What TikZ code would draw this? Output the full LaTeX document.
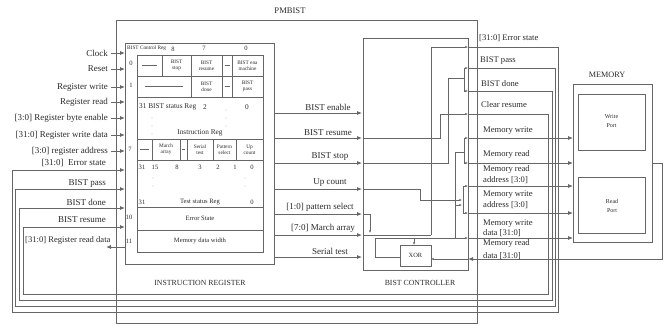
\documentclass[tikz,border=0pt]{standalone}
\usepackage{fontspec}
\setmainfont{Liberation Serif}
\usetikzlibrary{arrows.meta}

\begin{document}
\begin{tikzpicture}[x=1pt, y=-1pt,
    wire/.style={draw=lineColour, line width=0.8pt},
    sig/.style={wire, -{Latex[length=5pt,width=4pt]}},
    tip/.style={wire, -{Latex[length=2.6pt,width=2.2pt]}},
    lbl/.style={text=textColour, font=\fontsize{9}{10}\selectfont, inner sep=0pt},
    rlbl/.style={lbl, font=\fontsize{8.6}{11}\selectfont, anchor=west, align=left},
    cell/.style={text=textColour, font=\fontsize{5.3}{5.9}\selectfont, align=center, inner sep=0pt},
    regtxt/.style={text=textColour, font=\fontsize{6.6}{7}\selectfont, inner sep=0pt},
    title/.style={text=textColour, font=\fontsize{7.8}{9}\selectfont, inner sep=0pt}]

    \definecolor{lineColour}{HTML}{666666}
    \definecolor{textColour}{HTML}{2A2A2A}

    \useasboundingbox (0,0) rectangle (664,325);

    % Draw PMBIST outline
    \draw[wire] (116,20) rectangle (477,323);
    \node[title, font=\fontsize{8.6}{9}\selectfont] (pmbist) at (290,11) {PMBIST};

    % Draw instruction register
    \draw[wire] (125,43) rectangle (274,264);
    \draw[wire] (137,55) rectangle (263,252);
    \foreach \y in {76,97,139,160,207,230}
        \draw[wire] (137,\y) -- (263,\y);
    \foreach \x in {162,191,222,232}
        \draw[wire] (\x,55) -- (\x,76);
    \foreach \x in {191,222,232}
        \draw[wire] (\x,76) -- (\x,97);
    \foreach \x in {152,180,187,213,236}
        \draw[wire] (\x,139) -- (\x,160);

    % Dashes in unused cells
    \draw[wire, line width=0.4pt] (142,65.5) -- (157,65.5);
    \draw[wire, line width=0.4pt] (145,86.5) -- (183,86.5);
    \draw[wire, line width=0.4pt] (224.5,65.5) -- (229.5,65.5);
    \draw[wire, line width=0.4pt] (224.5,86.5) -- (229.5,86.5);
    \draw[wire, line width=0.4pt] (140,149.5) -- (149,149.5);
    \draw[wire, line width=0.4pt] (182,149.5) -- (185,149.5);

    % Label register cells
    \node[cell, anchor=west] (ctrlReg) at (127,48) {BIST Control Reg};
    \node[regtxt] (bitEight) at (173,49.5) {8};
    \node[regtxt] (bitSeven) at (204,48) {7};
    \node[regtxt] (bitZero) at (246,48) {0};
    \node[cell] (stopCell) at (176.5,65.5) {BIST\\stop};
    \node[cell] (resumeCell) at (206.5,65.5) {BIST\\resume};
    \node[cell] (enaCell) at (247.5,65.5) {BIST ena\\machine};
    \node[cell] (doneCell) at (206.5,86.5) {BIST\\done};
    \node[cell] (passCell) at (247.5,86.5) {BIST\\pass};
    \node[cell] (marchCell) at (166,149.5) {March\\array};
    \node[cell] (serialCell) at (200,149.5) {Serial\\test};
    \node[cell] (patternCell) at (224.5,149.5) {Pattern\\select};
    \node[cell] (upCell) at (249.5,149.5) {Up\\count};

    % Register addresses
    \node[regtxt] (addrZero) at (131,63) {0};
    \node[regtxt] (addrOne) at (131,85) {1};
    \node[regtxt] (addrSeven) at (130,149) {7};
    \node[regtxt] (addrTen) at (129,217) {10};
    \node[regtxt] (addrEleven) at (129,241) {11};

    % Status and test registers
    \node[regtxt, font=\fontsize{7.3}{8}\selectfont, anchor=west] (statusReg) at (139,107) {31 BIST status Reg};
    \node[regtxt, font=\fontsize{7.3}{8}\selectfont] (statusTwo) at (205,107) {2};
    \node[regtxt, font=\fontsize{7.3}{8}\selectfont] (statusZero) at (247,107) {0};
    \node[regtxt, font=\fontsize{7.3}{8}\selectfont] (instrReg) at (200,133) {Instruction Reg};
    \foreach \y in {118,126,134}
        \fill[lineColour] (152,\y) circle (0.45);
    \foreach \y in {110,118,126}
        \fill[lineColour] (226,\y) circle (0.45);
    \foreach \x/\b in {142/31,155/15,177/8,200/3,218/2,235/1,252/0}
        \node[regtxt] at (\x,167) {\b};
    \foreach \y in {178,186}
    {
        \fill[lineColour] (153,\y) circle (0.45);
        \fill[lineColour] (245,\y) circle (0.45);
    }
    \node[regtxt] (testHigh) at (142,202) {31};
    \node[regtxt] (testReg) at (200,202) {Test status Reg};
    \node[regtxt] (testLow) at (252,202) {0};
    \node[regtxt] (errorReg) at (200,218.5) {Error State};
    \node[regtxt] (widthReg) at (200,241) {Memory data width};
    \node[title] (irTitle) at (200,283) {INSTRUCTION REGISTER};

    % Host inputs
    \foreach \y/\t in {53/Clock, 69/Reset, 87/Register write, 102/Register read,
                       118/{[3:0] Register byte enable}, 135/{[31:0] Register write data},
                       151/{[3:0] register address}}
    {
        \draw[sig] (111,\y) -- (125,\y);
        \node[lbl, anchor=east] at (108,\y) {\t};
    }

    % Draw BIST controller
    \draw[wire] (363,38) rectangle (468,270);
    \draw[wire] (400,245) rectangle (431,266);
    \node[cell, font=\fontsize{6.4}{7}\selectfont] (xor) at (415.5,255.5) {XOR};
    \node[title] (ctrlTitle) at (420,283) {BIST CONTROLLER};

    % Instruction register to controller
    \foreach \y/\x/\t in {113/328/BIST enable, 138/328/BIST resume, 163/330/BIST stop,
                          189/330/Up count, 214/320/{[1:0] pattern select},
                          235/323/{[7:0] March array}, 257/330/Serial test}
    {
        \draw[sig] (274,\y) -- (362,\y);
        \node[lbl, anchor=south] at (\x,\y-2.5) {\t};
    }

    % Controller internal wiring
    \draw[wire] (363,235) -- (431,235);
    \draw[tip] (431,235) -- (431,47) -- (468,47);
    \draw[wire] (363,163) -- (448,163) -- (448,78) -- (464,78);
    \draw[wire] (464,68) -- (464,91);
    \draw[tip] (464,68) -- (468,68);
    \draw[tip] (464,91) -- (468,91);
    \draw[tip] (363,138) -- (440,138) -- (440,114) -- (468,114);
    \draw[wire] (455,238) -- (455,152) -- (464,152);
    \draw[wire] (464,138) -- (464,163);
    \draw[tip] (464,138) -- (468,138);
    \draw[tip] (464,163) -- (468,163);
    \draw[tip] (363,189) -- (420,189) -- (420,200) -- (462,200);
    \draw[tip] (455,205) -- (462,205);
    \draw[wire] (463,186) -- (463,213);
    \draw[tip] (463,186) -- (468,186);
    \draw[tip] (463,213) -- (468,213);
    \draw[tip] (375,238) -- (468,238);
    \draw[tip] (363,214) -- (370,214) -- (370,233);
    \draw[tip] (414,238) -- (414,245);
    \draw[wire] (375,238) -- (375,257) -- (400,257);
    \draw[tip] (468,259) -- (431,259);

    % Draw memory
    \draw[wire] (573,84) rectangle (652,242);
    \draw[wire] (578,94) rectangle (645,150);
    \draw[wire] (578,177) rectangle (645,233);
    \node[title, font=\fontsize{8.2}{9}\selectfont] (memTitle) at (607,75) {MEMORY};
    \node[cell, font=\fontsize{6}{9}\selectfont] (writePort) at (611.5,121) {Write\\Port};
    \node[cell, font=\fontsize{6}{9}\selectfont] (readPort) at (612,206) {Read\\Port};

    % Controller to memory
    \foreach \y in {138,163,186,213,238}
        \draw[sig] (468,\y) -- (573,\y);
    \draw[sig] (652,163) -- (662,163) -- (662,259) -- (468,259);

    % Feedback to instruction register
    \draw[sig] (468,47) -- (558,47) -- (558,312) -- (12,312) -- (12,170) -- (125,170);
    \draw[sig] (468,68) -- (555,68) -- (555,306) -- (15,306) -- (15,189) -- (125,189);
    \draw[sig] (468,91) -- (552,91) -- (552,300) -- (19,300) -- (19,208) -- (125,208);
    \draw[sig] (468,114) -- (548,114) -- (548,294) -- (23,294) -- (23,227) -- (125,227);
    \draw[sig] (125,247) -- (106,247);

    % Right side labels
    \node[rlbl] (errOut) at (479,38) {[31:0] Error state};
    \node[rlbl] (passOut) at (480,61) {BIST pass};
    \node[rlbl] (doneOut) at (481,84) {BIST done};
    \node[rlbl] (clearOut) at (481,105) {Clear resume};
    \node[rlbl] (memWrite) at (483,131) {Memory write};
    \node[rlbl] (memRead) at (483,154) {Memory read};
    \node[rlbl] (rdAddr) at (483,175) {Memory read\\address [3:0]};
    \node[rlbl] (wrAddr) at (483,200) {Memory write\\address [3:0]};
    \node[rlbl, font=\fontsize{8.6}{10.5}\selectfont] (wrData) at (483,228) {Memory write\\data [31:0]};
    \node[rlbl, font=\fontsize{8.6}{13}\selectfont] (rdData) at (483,250) {Memory read\\data [31:0]};

    % Left side feedback labels
    \node[lbl, anchor=east] (errIn) at (106,163) {[31:0]\ \ Error state};
    \node[lbl, anchor=east] (passIn) at (106,183) {BIST pass};
    \node[lbl, anchor=east] (doneIn) at (106,202) {BIST done};
    \node[lbl, anchor=east] (resumeIn) at (106,220) {BIST resume};
    \node[lbl, anchor=west, font=\fontsize{8.6}{10}\selectfont] (readData) at (25,240) {[31:0] Register read data};

\end{tikzpicture}
\end{document}
